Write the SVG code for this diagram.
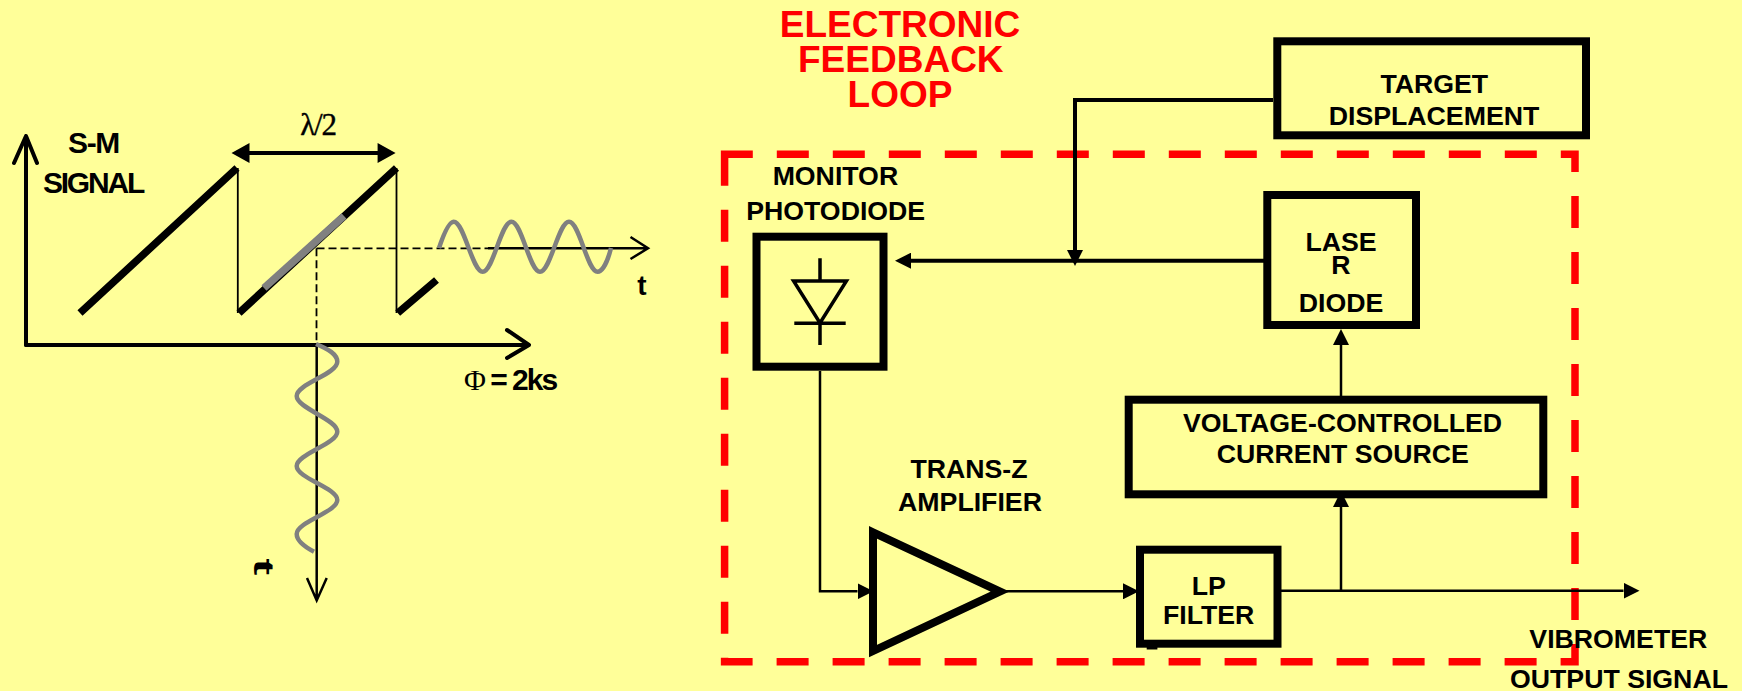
<svg xmlns="http://www.w3.org/2000/svg" width="1742" height="691" viewBox="0 0 1742 691">
<style>
text{font-family:"Liberation Sans",Arial,sans-serif;font-weight:bold;fill:#000;text-anchor:middle;font-size:26.7px}
.red{fill:#f00;font-size:37px}
.box{fill:none;stroke:#000;stroke-width:8;stroke-linejoin:miter}
.thin{fill:none;stroke:#000;stroke-width:2.5}
.mid{fill:none;stroke:#000;stroke-width:4}
.ax{fill:none;stroke:#000;stroke-width:4;stroke-linecap:round;stroke-linejoin:round}
.ramp{fill:none;stroke:#000;stroke-width:7.5}
.grey{fill:none;stroke:#808080;stroke-width:4.5;stroke-linejoin:round}
.dash{fill:none;stroke:#000;stroke-width:1.8;stroke-dasharray:8 4}
</style>
<defs>
<marker id="tri" viewBox="0 0 16 16" refX="0" refY="8" markerWidth="16" markerHeight="16" markerUnits="userSpaceOnUse" orient="auto"><path d="M0 0L16 8L0 16Z" fill="#000"/></marker>
</defs>
<rect width="1742" height="691" fill="#FFFF99"/>

<g id="signal-plot">
<path class="ax" d="M26 345V136M14 163L26 136L37 163"/>
<path class="ax" d="M26 345H529M507 330L529 345L507 358"/>
<path class="thin" style="stroke-width:1.8" d="M237.8 168V313M396.5 168V313"/>
<path class="ramp" d="M80 313L237 168M239 313L396.5 168M397.7 313L436.5 280"/>
<path d="M264 288L344 216" fill="none" stroke="#808080" stroke-width="7.5"/>
<path class="dash" d="M316.5 248.3H488M316.5 248.3V345"/>
<path class="thin" d="M488 248.3H647M630.5 237L648 248.3L630.5 259"/>
<path class="thin" d="M316.7 345V600M307 578L316.7 600.5L326.7 578"/>
<path class="grey" d="M439 248C444 233 449 221.7 453.7 221.7C464.2 221.7 472.2 271.7 482.7 271.7S500.9 221.7 511.4 221.7S529.5 271.7 540 271.7S558.5 221.7 569 221.7S587.1 271.7 597.6 271.7C603 271.7 608 260 611 248"/>
<path class="grey" d="M316 344C328 349 337.3 354 337.3 361.7C337.3 374 296.7 384 296.7 396S337.3 419.5 337.3 431.7S296.7 454 296.7 466S337.3 488 337.3 500S296.7 522 296.7 534C296.7 541 305 547 314 551.7"/>
<path class="mid" d="M249 153H378"/>
<path d="M231.5 153L249.5 143V163ZM395.6 153L377.6 143V163Z" fill="#000"/>
<text x="318" y="135" style="font-family:'Liberation Serif',serif;font-weight:normal;font-size:31px;letter-spacing:-1.2px;stroke:#000;stroke-width:.4">λ/2</text>
<text x="93.5" y="152.7" style="font-size:30px;letter-spacing:-1.3px">S-M</text>
<text x="93" y="192.7" style="font-size:30px;letter-spacing:-2.2px">SIGNAL</text>
<text x="510" y="390" style="font-size:30px;letter-spacing:-2px"><tspan style="font-family:'Liberation Serif',serif;font-weight:normal">Φ</tspan> = 2ks</text>
<text x="642" y="295" style="font-size:28px">t</text>
<text transform="translate(254 567) rotate(90) scale(1.8 1)" style="font-size:28px">t</text>
</g>

<g id="title">
<text class="red" x="900" y="36.7">ELECTRONIC</text>
<text class="red" x="900.8" y="72.3">FEEDBACK</text>
<text class="red" x="900" y="107.3">LOOP</text>
</g>

<path id="feedback-loop-boundary" d="M724.6 154.3H1575V661.7H724.6Z" fill="none" stroke="#f00" stroke-width="7.5" stroke-dasharray="32 24" stroke-dashoffset="3.8"/>

<g id="connectors">
<path class="mid" d="M1273 100H1075V250" marker-end="url(#tri)"/>
<path class="mid" d="M1264 260.7H911" marker-end="url(#tri)"/>
<path class="thin" d="M820 371V591.3H857.5" marker-end="url(#tri)"/>
<path class="thin" d="M1005 591.3H1123" marker-end="url(#tri)"/>
<path class="thin" d="M1281 590.7H1623.5" marker-end="url(#tri)"/>
<path class="thin" d="M1341 590.7V507" marker-end="url(#tri)"/>
<path class="thin" d="M1341 396V345" marker-end="url(#tri)"/>
</g>

<g id="target">
<rect class="box" x="1277.3" y="41.3" width="308.7" height="94"/>
<text x="1434.3" y="92.7">TARGET</text>
<text x="1434" y="125">DISPLACEMENT</text>
</g>

<g id="laser">
<rect class="box" x="1267.3" y="195" width="148.7" height="130"/>
<text x="1341" y="250.7">LASE</text>
<text x="1341" y="274.3">R</text>
<text x="1341" y="311.7">DIODE</text>
</g>

<g id="vccs">
<rect class="box" x="1128.7" y="399.7" width="414.6" height="94.6"/>
<text x="1342.5" y="431.7">VOLTAGE-CONTROLLED</text>
<text x="1342.8" y="463.3">CURRENT SOURCE</text>
</g>

<g id="photodiode">
<rect class="box" x="756.5" y="236.7" width="127" height="130"/>
<path d="M820 258.3V281M793.6 281H846.4L820 323ZM794.3 323.3H845.7M820 323V345" fill="none" stroke="#000" stroke-width="3.5"/>
<text x="835.4" y="185">MONITOR</text>
<text x="835.7" y="220">PHOTODIODE</text>
</g>

<g id="amplifier">
<path class="box" d="M873 532.3L1000 591.5L873 651Z"/>
<text x="969" y="478">TRANS-Z</text>
<text x="970" y="510.5">AMPLIFIER</text>
</g>

<g id="lp-filter">
<rect class="box" x="1140" y="549.7" width="137.5" height="94"/>
<rect x="1146.7" y="647" width="10.7" height="2.5" fill="#000"/>
<text x="1208.7" y="595">LP</text>
<text x="1208.7" y="624">FILTER</text>
</g>

<g id="output-label">
<text x="1618.3" y="648">VIBROMETER</text>
<text x="1619" y="687.7">OUTPUT SIGNAL</text>
</g>
</svg>
